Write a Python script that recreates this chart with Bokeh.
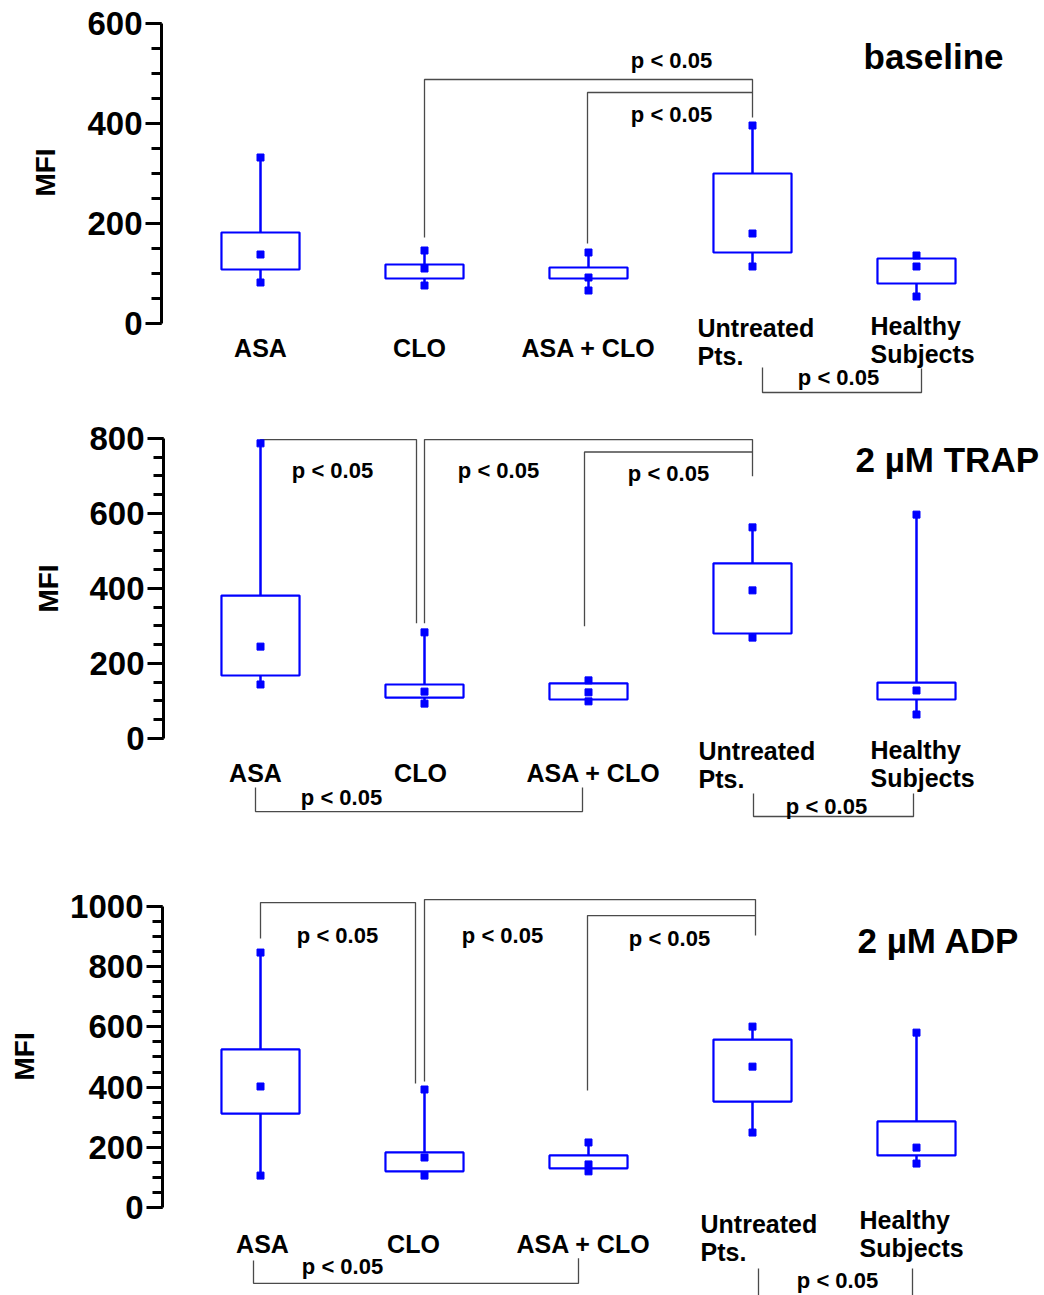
import math
from bokeh.plotting import figure
from bokeh.models import Range1d, FixedTicker
from bokeh.layouts import column, row
from bokeh.embed import file_html
from bokeh.resources import INLINE
from bokeh.core.properties import value

# ---------------- data ----------------
categories = ["ASA", "CLO", "ASA + CLO", "Untreated\nPts.", "Healthy\nSubjects"]

baseline_max = [332, 146, 142, 396, 136]
baseline_q3 = [182, 118, 112, 300, 130]
baseline_median = [138, 110, 92, 180, 114]
baseline_q1 = [108, 90, 90, 142, 80]
baseline_min = [82, 76, 66, 114, 54]

trap_max = [787, 283, 155, 563, 597]
trap_q3 = [381, 144, 147, 467, 149]
trap_median = [245, 125, 123, 395, 128]
trap_q1 = [168, 109, 104, 280, 104]
trap_min = [144, 93, 99, 269, 64]

adp_max = [847, 392, 216, 601, 581]
adp_q3 = [525, 183, 173, 558, 286]
adp_median = [402, 166, 143, 468, 199]
adp_q1 = [312, 120, 130, 352, 173]
adp_min = [106, 106, 120, 249, 146]

titles = ["baseline", "2 \u00b5M TRAP", "2 \u00b5M ADP"]
y_label = "MFI"
p_text = "p < 0.05"

baseline_ticks = [0, 200, 400, 600]
trap_ticks = [0, 200, 400, 600, 800]
adp_ticks = [0, 200, 400, 600, 800, 1000]

# ---------------- layout helpers ----------------
SPACING = 164.0      # px between category centres
WIDTH = 1044
LABEL_W = 66         # width of the strip holding the "MFI" title
FONT = "Liberation Sans"
BLUE = "#0000FF"
BRACKET = "#4a4a4a"


def cx(i, dpx=0.0):
    """category index (1-based) plus an offset in px"""
    return i + dpx / SPACING


def make_panel(h, axis_px, y_range, ticks, vmax, vq3, vmed, vq1, vmin,
               title, title_pos, label_off, label_y, brackets, ptexts, mfi_pos):
    x0 = 1 + (axis_px - 260) / SPACING
    x1 = 1 + (WIDTH - 260) / SPACING
    yr = Range1d(*y_range)
    p = figure(width=WIDTH - LABEL_W, height=h, x_range=Range1d(x0, x1),
               y_range=yr, output_backend="svg",
               toolbar_location=None, tools="", x_axis_location=None,
               min_border_left=axis_px - LABEL_W, min_border_right=0,
               min_border_top=0, min_border_bottom=0)
    p.outline_line_color = None
    p.grid.visible = False

    ax = p.yaxis[0]
    step = 50
    ax.ticker = FixedTicker(ticks=ticks,
                            minor_ticks=list(range(0, ticks[-1] + 1, step)))
    ax.bounds = (ticks[0], ticks[-1])
    ax.axis_line_width = 3
    ax.major_tick_line_width = 3
    ax.minor_tick_line_width = 3
    ax.major_tick_out = 16
    ax.major_tick_in = 0
    ax.minor_tick_out = 10
    ax.minor_tick_in = 0
    ax.major_label_standoff = 3
    ax.major_label_text_font = FONT
    ax.major_label_text_font_style = "bold"
    ax.major_label_text_font_size = "33px"
    ax.major_label_text_color = "black"

    # strip at the left holding the y-axis title, centred on the axis line
    lf = figure(width=LABEL_W, height=h, x_range=Range1d(0, LABEL_W),
                y_range=yr, output_backend="svg", toolbar_location=None,
                tools="", x_axis_location=None, y_axis_location=None,
                min_border_left=0, min_border_right=0,
                min_border_top=0, min_border_bottom=0)
    lf.outline_line_color = None
    lf.grid.visible = False
    lf.text(x=[mfi_pos[0]], y=[mfi_pos[1]], text=[y_label],
            angle=math.pi / 2, text_align="center", text_baseline="middle",
            text_font=value(FONT), text_font_style="bold",
            text_font_size="28px", text_color="black")

    xs = [i + 1 for i in range(len(categories))]
    half = 0.238

    # significance brackets
    for br in brackets:
        p.line([cx(a, b) for (a, b, _) in br], [y for (_, _, y) in br],
               line_color=BRACKET, line_width=1.3)

    # whiskers
    p.segment(x0=xs, y0=vq3, x1=xs, y1=vmax, line_color=BLUE, line_width=2.5)
    p.segment(x0=xs, y0=vmin, x1=xs, y1=vq1, line_color=BLUE, line_width=2.5)
    # boxes
    p.quad(left=[x - half for x in xs], right=[x + half for x in xs],
           top=vq3, bottom=vq1, fill_color=None, line_color=BLUE, line_width=2.2)
    # end points and medians
    for vals in (vmax, vmin, vmed):
        p.scatter(x=xs, y=vals, marker="square", size=7,
                  fill_color=BLUE, line_color=BLUE)

    # category labels
    for i, cat in enumerate(categories):
        dx, align = label_off[i]
        p.text(x=[cx(i + 1, dx)], y=[label_y[i]], text=[cat],
               text_align=align, text_baseline="middle",
               text_font=value(FONT), text_font_style="bold",
               text_font_size="25px", text_color="black",
               text_line_height=1.0)

    # p-value texts
    p.text(x=[cx(a, b) for (a, b, _) in ptexts], y=[y for (_, _, y) in ptexts],
           text=[p_text] * len(ptexts), text_align="center",
           text_baseline="middle", text_font=value(FONT),
           text_font_style="bold", text_font_size="22px", text_color="black")

    # panel title
    p.text(x=[cx(5, title_pos[0])], y=[title_pos[1]], text=[title],
           text_align="left", text_baseline="middle", text_font=value(FONT),
           text_font_style="bold", text_font_size="35px", text_color="black")
    return row(lf, p, spacing=0)


p1 = make_panel(
    400, 161, (-154, 646), baseline_ticks,
    baseline_max, baseline_q3, baseline_median, baseline_q1, baseline_min,
    titles[0], (-53, 534),
    [(0, "center"), (-5, "center"), (0, "center"), (-55, "left"), (-46, "left")],
    [-48, -48, -48, -37, -33],
    [
        [(2, 0, 172), (2, 0, 488), (4, 0, 488), (4, 0, 412)],
        [(3, -1, 160), (3, -1, 462), (4, 0, 462)],
        [(4, 10, -88), (4, 10, -138), (5, 5, -138), (5, 5, -90)],
    ],
    [(3, 83, 526), (3, 83, 418), (4, 86, -108)],
    (45, 302),
)

p2 = make_panel(
    440, 163, (-272, 901.3), trap_ticks,
    trap_max, trap_q3, trap_median, trap_q1, trap_min,
    titles[1], (-61, 744),
    [(-5, "center"), (-4, "center"), (5, "center"), (-54, "left"), (-46, "left")],
    [-91, -91, -91, -72, -69],
    [
        [(1, 0, 787), (1, 0, 797), (2, -8, 797), (2, -8, 307)],
        [(2, 0, 307), (2, 0, 797), (4, 0, 797), (4, 0, 699)],
        [(3, -4, 299), (3, -4, 764), (4, 0, 764)],
        [(1, -5, -131), (1, -5, -195), (3, -6, -195), (3, -6, -131)],
        [(4, 1, -147), (4, 1, -208), (5, -3, -208), (5, -3, -147)],
    ],
    [(1, 72, 715), (2, 74, 715), (3, 80, 707), (1, 81, -157), (4, 74, -181)],
    (48, 400),
)

p3 = make_panel(
    455, 162, (-292.4, 1219.3), adp_ticks,
    adp_max, adp_q3, adp_median, adp_q1, adp_min,
    titles[2], (-59, 887),
    [(2, "center"), (-11, "center"), (-5, "center"), (-52, "left"), (-57, "left")],
    [-120, -120, -120, -100, -88],
    [
        [(1, 0, 894), (1, 0, 1013), (2, -9, 1013), (2, -9, 412)],
        [(2, 0, 419), (2, 0, 1023), (4, 3, 1023), (4, 3, 904)],
        [(3, -1, 389), (3, -1, 970), (4, 3, 970)],
        [(1, -7, -176), (1, -7, -252), (3, -10, -252), (3, -10, -169)],
        [(4, 6, -203), (4, 6, -296), (5, -4, -296), (5, -4, -203)],
    ],
    [(1, 77, 904), (2, 78, 904), (3, 81, 894), (1, 82, -196), (4, 85, -243)],
    (24, 502),
)

layout = column(p1, p2, p3, spacing=0)
open("out.html", "w").write(file_html(layout, INLINE))
